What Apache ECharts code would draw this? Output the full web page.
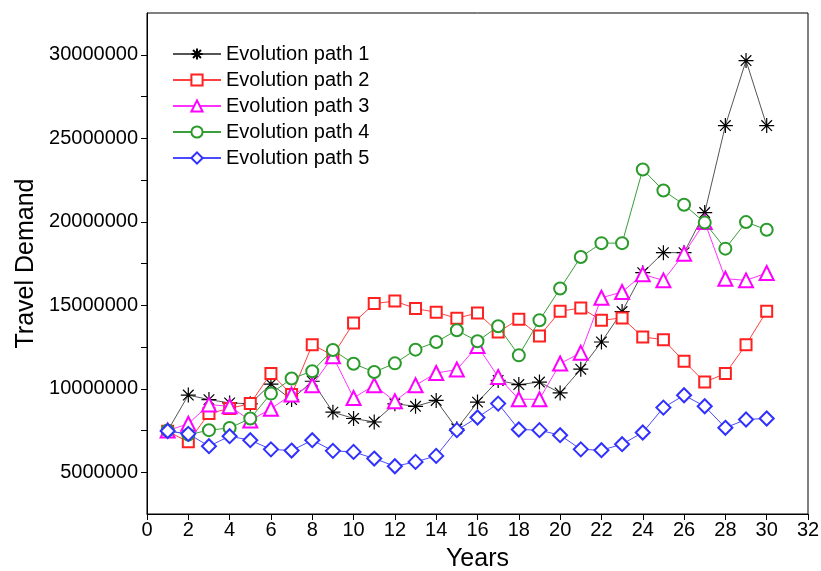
<!DOCTYPE html>
<html>
<head>
<meta charset="utf-8">
<script src="https://cdn.jsdelivr.net/npm/echarts@6/dist/echarts.min.js"></script>
<style>html,body{margin:0;padding:0;background:#fff}#c{width:821px;height:571px}</style>
</head>
<body>
<div id="c"></div>
<script>
const years = [1,2,3,4,5,6,7,8,9,10,11,12,13,14,15,16,17,18,19,20,21,22,23,24,25,26,27,28,29,30];
const seriesNames = ['Evolution path 1','Evolution path 2','Evolution path 3','Evolution path 4','Evolution path 5'];
const path1 = [7480000,9620000,9350000,9150000,9100000,10280000,9350000,10450000,8600000,8220000,8010000,9100000,8950000,9300000,7600000,9200000,10500000,10250000,10400000,9750000,11170000,12800000,14620000,16950000,18150000,18150000,20550000,25760000,29650000,25760000];
const path2 = [7450000,6820000,8520000,8820000,9110000,10920000,9650000,12640000,12000000,13940000,15100000,15250000,14800000,14580000,14220000,14540000,13400000,14160000,13160000,14640000,14840000,14100000,14240000,13100000,12940000,11640000,10400000,10910000,12640000,14640000];
const path3 = [7500000,7900000,9050000,8950000,8100000,8800000,9650000,10210000,11940000,9450000,10210000,9250000,10210000,10940000,11150000,12560000,10710000,9370000,9370000,11510000,12150000,15450000,15790000,16850000,16490000,18090000,19980000,16590000,16490000,16930000];
const path4 = [7500000,7250000,7520000,7650000,8220000,9710000,10610000,11050000,12320000,11500000,11000000,11520000,12340000,12800000,13500000,12840000,13740000,12000000,14100000,16000000,17890000,18720000,18720000,23130000,21870000,21020000,19950000,18390000,19980000,19520000];
const path5 = [7470000,7300000,6560000,7160000,6920000,6370000,6300000,6920000,6280000,6220000,5820000,5360000,5620000,5980000,7520000,8280000,9110000,7560000,7520000,7220000,6370000,6320000,6680000,7380000,8870000,9610000,8950000,7660000,8160000,8220000];
const yLabelValues = [5000000,10000000,15000000,20000000,25000000,30000000];
const yTickValues = [5000000,7500000,10000000,12500000,15000000,17500000,20000000,22500000,25000000,27500000,30000000];

const allData = [path1,path2,path3,path4,path5];
const colors = ['#555555','#ff4040','#ff33ff','#3a9e3a','#4a4aff'];
const markColors = ['#000000','#ff2020','#ff00ff','#2a9a2a','#3030ff'];
const symbols = ['path://M0,-10L0,10M-10,0L10,0M-7.07,-7.07L7.07,7.07M-7.07,7.07L7.07,-7.07','emptyRect','emptyTriangle','emptyCircle','emptyDiamond'];
const sizes = [15,11,14,12,14];
const FONT = "'Liberation Sans', Arial, sans-serif";

const series = allData.map((d,i)=>({
  name: seriesNames[i],
  type: 'line',
  data: years.map((y,j)=>[y,d[j]]),
  symbol: symbols[i],
  symbolSize: sizes[i],
  showAllSymbol: true,
  lineStyle: {color: colors[i], width: 1},
  itemStyle: i===0 ? {color: 'rgba(0,0,0,0)', borderColor: markColors[i], borderWidth: 1.2} : {color: markColors[i], borderColor: markColors[i], borderWidth: 1.2},
  emphasis: {disabled: true},
  animation: false,
  z: 2+i
}));

const chart = echarts.init(document.getElementById('c'), null, {renderer:'canvas'});
chart.setOption({
  backgroundColor: '#fff',
  animation: false,
  grid: {left:147, right:13, top:13, bottom:57, show:true, borderColor:'#000', borderWidth:1, backgroundColor:'transparent', containLabel:false, outerBoundsMode:'none'},
  legend: {
    orient:'vertical', left:167, top:39,
    itemWidth:48, itemHeight:14, itemGap:6,
    textStyle:{fontFamily:FONT, fontSize:20, color:'#000', lineHeight:20},
    data: seriesNames
  },
  xAxis: {
    type:'value', min:0, max:32, interval:2,
    name:'Years', nameLocation:'middle', nameGap:33,
    nameTextStyle:{fontFamily:FONT, fontSize:25, color:'#000'},
    axisLine:{show:true, onZero:false, lineStyle:{color:'#000', width:1}},
    axisTick:{show:true, inside:false, length:6, lineStyle:{color:'#000'}},
    axisLabel:{fontFamily:FONT, fontSize:20, color:'#000', margin:6},
    splitLine:{show:false}
  },
  yAxis: {
    type:'value', min:2500000, max:32500000,
    name:'Travel Demand', nameLocation:'middle', nameGap:106,
    nameTextStyle:{fontFamily:FONT, fontSize:25, color:'#000'},
    axisLine:{show:true, onZero:false, lineStyle:{color:'#000', width:1}},
    axisTick:{show:true, inside:false, length:6, lineStyle:{color:'#000'}, customValues: yTickValues},
    axisLabel:{fontFamily:FONT, fontSize:20, color:'#000', margin:9, customValues: yLabelValues, formatter: v => String(Math.round(v))},
    splitLine:{show:false}
  },
  series: series
});
</script>
</body>
</html>
